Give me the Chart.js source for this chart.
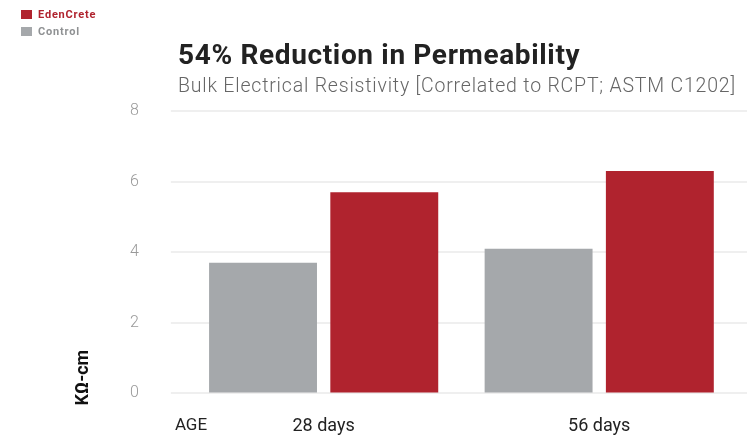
<!DOCTYPE html>
<html>
<head>
<meta charset="utf-8">
<script src="https://cdn.jsdelivr.net/npm/chart.js@4/dist/chart.umd.min.js"></script>
<style>
    body { margin: 0; background: #fff; font-family: Roboto, sans-serif; }
    #wrap { position: relative; width: 751px; height: 435px; overflow: hidden; }
    #chart { position: absolute; left: 0; top: 0; }
    .legend { position: absolute; left: 21px; top: 9px; font-size: 11px; font-weight: 700; letter-spacing: 0.8px; }
    .legend div { height: 17px; line-height: 12px; }
    .legend span.box { display: inline-block; width: 11px; height: 9px; margin-right: 6px; vertical-align: top; margin-top: 1px; }
    h1 { position: absolute; left: 178px; top: 38px; margin: 0; font-size: 28px; font-weight: 700; color: #222; letter-spacing: 0.65px; }
    h2 { position: absolute; left: 178px; top: 74px; margin: 0; font-size: 19.5px; font-weight: 300; color: #666; letter-spacing: 0.8px; }
</style>
</head>
<body>
<div id="wrap">
    <canvas id="chart" width="751" height="435"></canvas>
    <div class="legend" id="legend"></div>
    <h1>54% Reduction in Permeability</h1>
    <h2>Bulk Electrical Resistivity [Correlated to RCPT; ASTM C1202]</h2>
</div>
<script>
const categories = ['28 days', '56 days'];
const controlValues = [3.7, 4.1];
const edenCreteValues = [5.7, 6.3];
const yMax = 8;
const yStep = 2;

const red = '#b0232e';
const grey = '#a5a8ab';
const gridColor = '#efefef';
const tickFontSize = 18;

// "AGE" on the category label line and the rotated unit label at the bottom left
const sideLabels = {
    id: 'sideLabels',
    afterDraw(chart) {
        const x = chart.scales.x;
        const area = chart.chartArea;
        const ctx = chart.ctx;
        ctx.save();
        ctx.font = '400 17px Roboto';
        ctx.fillStyle = '#222';
        ctx.textAlign = 'left';
        ctx.textBaseline = 'middle';
        ctx.fillText('AGE', area.left - 11, x.top + x.options.ticks.padding + tickFontSize * 0.6);

        ctx.translate(83, area.bottom + 12);
        ctx.rotate(-Math.PI / 2);
        ctx.font = '700 18px Roboto';
        ctx.fillStyle = '#111';
        ctx.fillText('KΩ-cm', 0, 0);
        ctx.restore();
    }
};

const chart = new Chart(document.getElementById('chart'), {
    type: 'bar',
    data: {
        labels: categories,
        datasets: [
            { label: 'Control', data: controlValues, backgroundColor: grey },
            { label: 'EdenCrete', data: edenCreteValues, backgroundColor: red }
        ]
    },
    options: {
        responsive: false,
        animation: false,
        layout: { padding: { top: 111, right: 4, bottom: -26, left: 98 } },
        datasets: {
            bar: { barPercentage: 0.89, categoryPercentage: 0.88 }
        },
        plugins: {
            legend: { display: false },
            tooltip: { enabled: false }
        },
        scales: {
            x: {
                grid: { display: false, drawTicks: false },
                border: { display: false },
                ticks: {
                    padding: 22,
                    color: '#222',
                    font: { family: 'Roboto', size: tickFontSize }
                }
            },
            y: {
                min: 0,
                max: yMax,
                ticks: {
                    stepSize: yStep,
                    padding: 32,
                    color: '#999',
                    font: { family: 'Roboto', size: 16, weight: 300 }
                },
                grid: { color: gridColor, lineWidth: 2, tickLength: 15 },
                border: { display: false }
            },
            // right-hand axis only carries the gridlines a little past the last bar
            y2: {
                position: 'right',
                min: 0,
                max: yMax,
                ticks: { stepSize: yStep, display: false },
                grid: { color: gridColor, lineWidth: 2, tickLength: 10, drawOnChartArea: false },
                border: { display: false }
            }
        }
    },
    plugins: [sideLabels]
});

// legend built from the datasets, EdenCrete listed first
const legend = document.getElementById('legend');
chart.data.datasets.slice().reverse().forEach(function(ds) {
    const row = document.createElement('div');
    row.style.color = ds.backgroundColor === red ? red : '#8f9193';
    row.innerHTML = '<span class="box" style="background:' + ds.backgroundColor + '"></span>' + ds.label;
    legend.appendChild(row);
});
</script>
</body>
</html>
